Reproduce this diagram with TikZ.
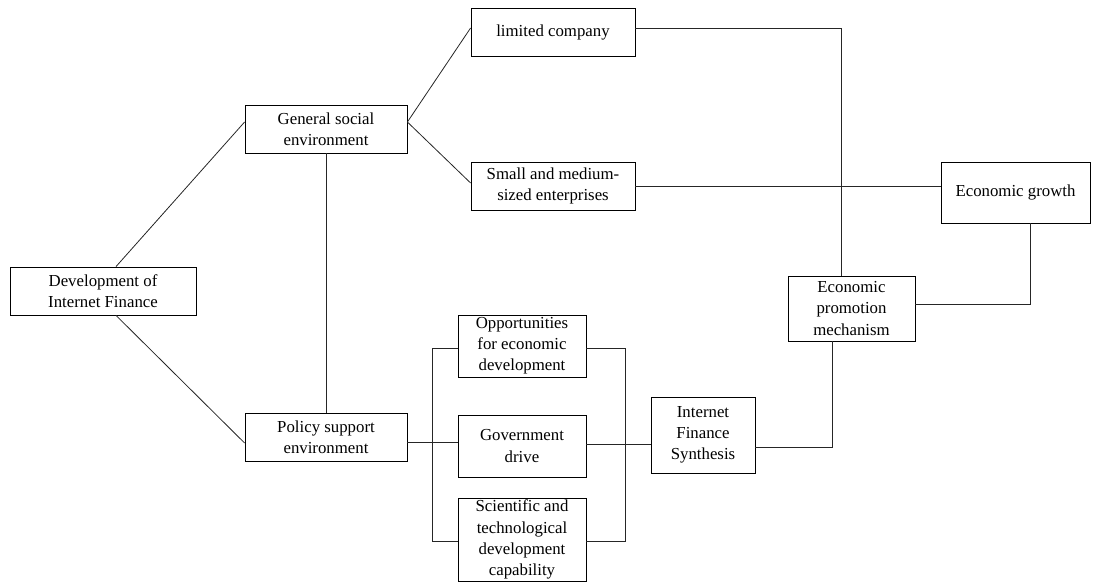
\documentclass[tikz,border=0pt]{standalone}
\usepackage{fontspec}
\setmainfont{Liberation Serif}
\begin{document}
\begin{tikzpicture}[x=1pt,y=-1pt,
  box/.style={draw=black,line width=0.8pt,inner sep=0pt,align=center,
    font=\fontsize{16.8}{21.2}\selectfont},
  conn/.style={draw=black!85,line width=0.8pt}]
\useasboundingbox (0,0) rectangle (1096,583);
\node[box,minimum width=186pt,minimum height=48pt] (dev) at (103,291) {Development of\\Internet Finance};
\node[box,minimum width=162pt,minimum height=48pt] (gen) at (326,129) {General social\\environment};
\node[box,minimum width=164pt,minimum height=48pt] (ltd) at (553,32) {limited company};
\node[box,minimum width=164pt,minimum height=48pt] (sme) at (553,186) {Small and medium-\\sized enterprises};
\node[box,minimum width=149pt,minimum height=61pt] (grow) at (1015.5,192.5) {Economic growth};
\node[box,minimum width=127pt,minimum height=65pt] (prom) at (851.5,308.5) {Economic\\promotion\\mechanism};
\node[box,minimum width=162pt,minimum height=48pt] (pol) at (326,437) {Policy support\\environment};
\node[box,minimum width=128pt,minimum height=62pt] (opp) at (522,346) {Opportunities\\for economic\\development};
\node[box,minimum width=128pt,minimum height=62pt] (gov) at (522,446) {Government\\drive};
\node[box,minimum width=128pt,minimum height=83pt] (sci) at (522,539.5) {Scientific and\\technological\\development\\capability};
\node[box,minimum width=104pt,minimum height=76pt] (syn) at (703,435) {Internet\\Finance\\Synthesis};

\draw[conn] ([xshift=13pt]dev.north) -- ([yshift=7pt]gen.west);
\draw[conn] ([xshift=13pt]dev.south) -- ([yshift=-6pt]pol.west);
\draw[conn] (gen.south) -- (pol.north);
\draw[conn] ([yshift=7pt]gen.east) -- ([yshift=4pt]ltd.west);
\draw[conn] ([yshift=7pt]gen.east) -- ([yshift=3pt]sme.west);
\draw[conn] ([yshift=4pt]ltd.east) -| ([xshift=-10pt]prom.north);
\draw[conn] (sme.east) -- (sme.east -| grow.west);
\draw[conn] ([yshift=4pt]prom.east) -| ([xshift=14.5pt]grow.south);
\draw[conn] ([yshift=-5pt]pol.east) -- ([yshift=-5pt]pol.east -| gov.west);
\draw[conn] ([yshift=-2pt]opp.west) -- ++(-25,0) |- ([yshift=-1.5pt]sci.west);
\draw[conn] ([yshift=-2pt]opp.east) -- ++(39,0) |- ([yshift=-1.5pt]sci.east);
\draw[conn] ([yshift=2pt]gov.east) -- ([yshift=2pt]gov.east -| syn.west);
\draw[conn] ([yshift=-12pt]syn.east) -| ([xshift=-19.5pt]prom.south);
\end{tikzpicture}
\end{document}
